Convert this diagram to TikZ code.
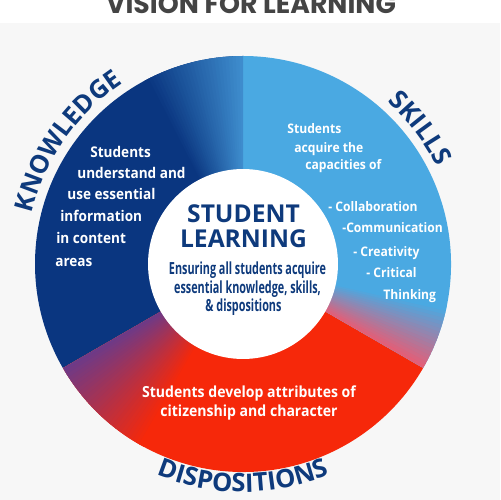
\documentclass[tikz,border=0pt]{standalone}
\usepackage{fontspec}
\setmainfont{Open Sans}
\newfontfamily\narrowfont{Open Sans}[FakeStretch=0.92]
\newfontfamily\condfont{Open Sans}[FakeStretch=0.65]
\newfontfamily\headfont{Poppins}
\usetikzlibrary{decorations.text}

\definecolor{navy}{RGB}{10,54,128}
\definecolor{sky}{RGB}{74,169,226}
\definecolor{fire}{RGB}{246,40,10}
\definecolor{inkblue}{RGB}{14,58,124}
\definecolor{paper}{RGB}{247,247,247}
\definecolor{kblend}{RGB}{62,140,205}
\definecolor{dblend}{RGB}{110,58,135}
\definecolor{sblend}{RGB}{226,95,120}
\definecolor{headgrey}{RGB}{68,68,68}

\begin{document}
\begin{tikzpicture}[x=0.02cm,y=0.02cm,
    body/.style={font=\narrowfont\bfseries\fontsize{8.4}{10}\selectfont,text=white,inner sep=0pt},
    skillbody/.style={body,font=\narrowfont\bfseries\fontsize{7.5}{9}\selectfont},
    hubtitle/.style={font=\bfseries\fontsize{14}{15}\selectfont,text=inkblue,inner sep=0pt,anchor=base},
    hubtext/.style={font=\condfont\bfseries\fontsize{9.5}{10}\selectfont,text=inkblue,inner sep=0pt,anchor=base},
    ringlabel/.style={decorate,decoration={text along path,text align=center,
        text={|\color{inkblue}\bfseries\fontsize{14.5}{15}\selectfont|#1}}}]
\useasboundingbox (0,0) rectangle (500,500);
\fill[paper] (0,0) rectangle (500,477);
\node[font=\headfont\bfseries\fontsize{15.2}{17}\selectfont,text=headgrey,anchor=base,inner sep=0pt] (head) at (251,486) {VISION FOR LEARNING};

\coordinate (ctr) at (243,236);

% the three parts of the ring
\fill[navy] (ctr) -- ([shift={(90:208)}]ctr) arc[start angle=90,end angle=210,radius=208] -- cycle;
\fill[fire] (ctr) -- ([shift={(210:208)}]ctr) arc[start angle=210,end angle=330,radius=208] -- cycle;
\fill[sky] (ctr) -- ([shift={(-30:208)}]ctr) arc[start angle=-30,end angle=90,radius=208] -- cycle;

% soft blends at the borders
\foreach \a in {90,...,117}{
  \pgfmathsetmacro\p{100*(117-\a)/27}
  \fill[kblend!\p!navy] (ctr) -- ([shift={(\a:208)}]ctr) arc[start angle=\a,end angle=\a+1.5,radius=208] -- cycle;
}
\foreach \a in {210,...,240}{
  \pgfmathsetmacro\p{100*(240-\a)/30}
  \fill[dblend!\p!fire] (ctr) -- ([shift={(\a:208)}]ctr) arc[start angle=\a,end angle=\a+1.5,radius=208] -- cycle;
}
\foreach \a in {330,...,347}{
  \pgfmathsetmacro\p{100*(347-\a)/17}
  \fill[sblend!\p!sky] (ctr) -- ([shift={(\a:208)}]ctr) arc[start angle=\a,end angle=\a+1.5,radius=208] -- cycle;
}

\node[circle,fill=white,minimum size=3.8cm,inner sep=0pt] (hub) at (ctr) {};

% middle
\node[hubtitle] (hub1) at (243.5,277) {STUDENT};
\node[hubtitle] (hub2) at (243.5,252) {LEARNING};
\foreach \t/\x/\y [count=\i] in {Ensuring all students acquire/247.5/225,
    {essential knowledge, skills,}/247.5/206.7, \& dispositions/243.5/188.3}
  \node[hubtext] (sub\i) at (\x,\y) {\t};

% knowledge
\foreach \t/\x/\y [count=\i] in {Students/90/342, understand and/77/321, use essential/67/300,
    information/60/278, in content/56/256, areas/55/233}
  \node[body,anchor=base west] (know\i) at (\x,\y) {\t};

% skills
\foreach \t/\x/\y [count=\i] in {Students/287/366, acquire the/294/347, capacities of/305/330,
    - Collaboration/328/288, -Communication/342/267, - Creativity/353/243,
    - Critical/366/222, Thinking/383/200}
  \node[skillbody,anchor=base west] (skill\i) at (\x,\y) {\t};

% dispositions
\node[body,font=\narrowfont\bfseries\fontsize{8.7}{10}\selectfont,anchor=base] (disp1) at (249,102) {Students develop attributes of};
\node[body,font=\narrowfont\bfseries\fontsize{8.7}{10}\selectfont,anchor=base] (disp2) at (249,83) {citizenship and character};

% ring labels
\path[ringlabel=KNOWLEDGE] ([shift={(167:217)}]ctr) arc[start angle=167,end angle=123,radius=217];
\path[ringlabel=SKILLS] ([shift={(49:217)}]ctr) arc[start angle=49,end angle=26,radius=217];
\path[ringlabel=DISPOSITIONS] ([shift={(242:228)}]ctr) arc[start angle=242,end angle=298,radius=228];
\end{tikzpicture}
\end{document}
